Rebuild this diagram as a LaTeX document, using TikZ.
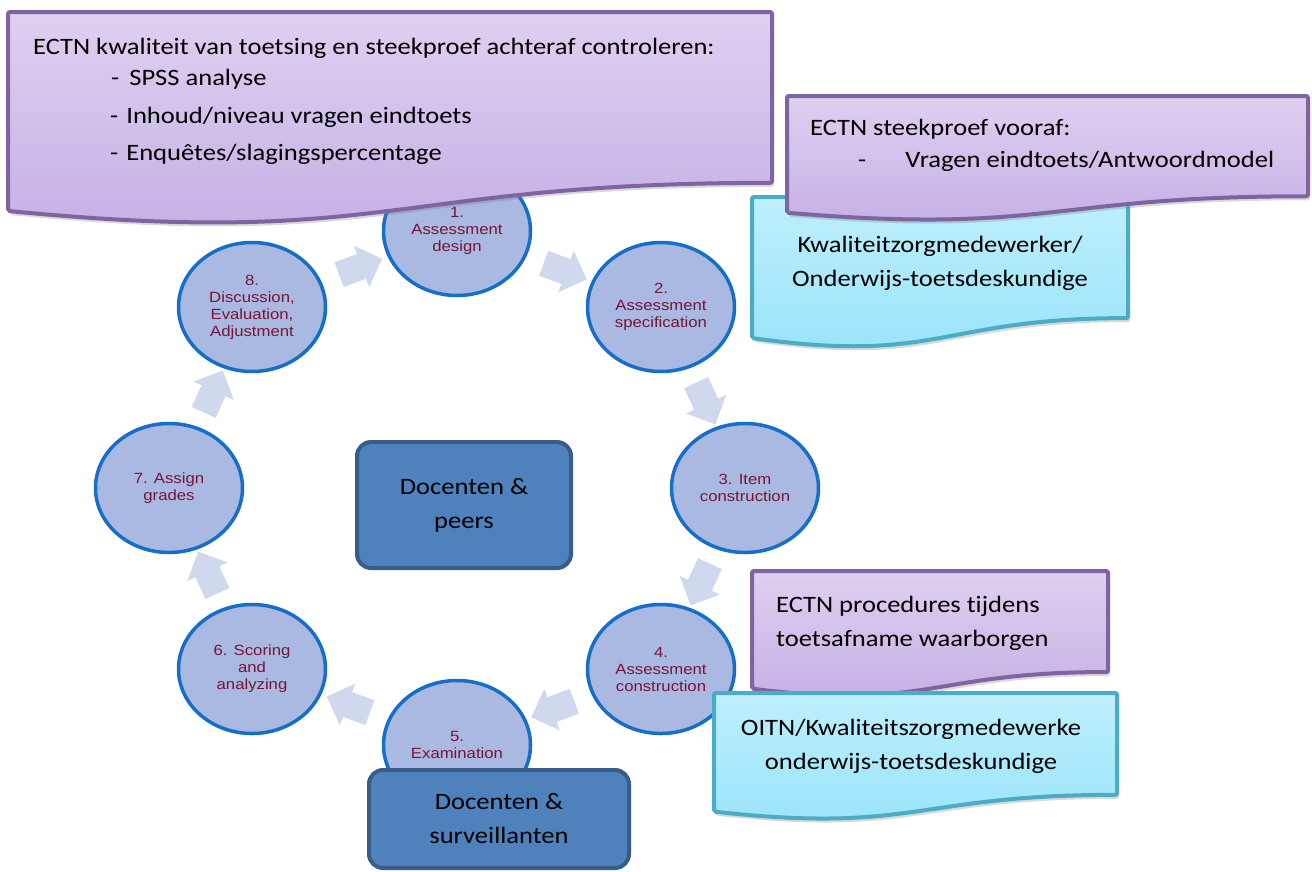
\documentclass[tikz,border=0pt]{standalone}
\usepackage{fontspec}
\usetikzlibrary{shapes.geometric,shapes.arrows,calc,shadows}
\newfontfamily\calf[FakeStretch=1.13,Ligatures=NoCommon]{Carlito}
\newfontfamily\arf[FakeStretch=1.13]{Liberation Sans}
\definecolor{purpB}{RGB}{128,100,162}
\definecolor{purpT}{RGB}{222,208,240}
\definecolor{purpD}{RGB}{195,174,228}
\definecolor{cyanB}{RGB}{75,172,198}
\definecolor{cyanT}{RGB}{190,239,252}
\definecolor{cyanD}{RGB}{152,227,250}
\definecolor{boxF}{RGB}{79,129,189}
\definecolor{boxB}{RGB}{56,93,138}
\definecolor{circF}{RGB}{170,185,225}
\definecolor{circB}{RGB}{22,110,200}
\definecolor{circT}{RGB}{120,20,55}
\definecolor{arrF}{RGB}{208,216,238}
\newcommand\mydocpath[4]{(#1,#2) -- (#3,#2) -- (#3,{#2+0.802*#4}) .. controls ({(#1+#3)/2},{#2+0.802*#4}) and ({(#1+#3)/2},{#2+1.108*#4}) .. (#1,{#2+0.934*#4}) -- cycle}
\begin{document}
\begin{tikzpicture}[x=1pt,y=-1pt,
  stage/.style={ellipse, draw=circB, line width=3.5pt, fill=circF, minimum width=147pt, minimum height=129pt, inner sep=0pt, align=center, text=circT, font=\arf\fontsize{14.8}{17}\selectfont},
  blk/.style={single arrow, fill=arrF, draw=none, minimum height=46pt, inner sep=13pt, single arrow head extend=9pt, single arrow tip angle=90},
  bluebox/.style={rectangle, rounded corners=14pt, draw=boxB, line width=4pt, fill=boxF, align=center, text=black, font=\calf\fontsize{23.5}{34}\selectfont},
  callP/.style={draw=purpB, line width=4pt, rounded corners=2pt, top color=purpT, bottom color=purpD, drop shadow={opacity=0.3, shadow xshift=2pt, shadow yshift=-4pt}},
  callC/.style={draw=cyanB, line width=4pt, rounded corners=2pt, top color=cyanT, bottom color=cyanD, drop shadow={opacity=0.3, shadow xshift=2pt, shadow yshift=-4pt}},
  ctext/.style={inner sep=0pt, text=black, font=\calf\fontsize{23.5}{34}\selectfont}]
\useasboundingbox (0,0) rectangle (1312,871);
% stages
\node[stage] (c1) at (457,231) {1.\\Assessment\\design};
\node[stage] (c2) at (661,307) {2.\\Assessment\\specification};
\node[stage] (c3) at (745,488) {3. Item\\construction};
\node[stage] (c4) at (661,669) {4.\\Assessment\\construction};
\node[stage] (c5) at (457,745) {5.\\Examination};
\node[stage] (c6) at (252,669) {6. Scoring\\and\\analyzing};
\node[stage] (c7) at (169,488) {7. Assign\\grades};
\node[stage] (c8) at (252,307) {8.\\Discussion,\\Evaluation,\\Adjustment};
% block arrows between stages
\foreach \a/\b in {c8/c1,c1/c2,c2/c3,c3/c4,c4/c5,c5/c6,c6/c7,c7/c8}
  \path let \p1=(\a.center), \p2=(\b.center), \n1={atan2(\y2-\y1,\x2-\x1)} in
    node[blk, rotate=\n1] (ar-\a) at ($(\a.center)!0.5!(\b.center)$) {};
% central boxes
\node[bluebox, minimum width=214pt, minimum height=126pt] (peers) at (464,505) {Docenten \&\\peers};
\node[bluebox, minimum width=260pt, minimum height=98pt] (surv) at (499,819) {Docenten \&\\surveillanten};
% big purple callout
\path[callP] \mydocpath{8}{12}{772}{213};
\node[ctext, anchor=base west] (t1a) at (33,54) {ECTN kwaliteit van toetsing en steekproef achteraf controleren:};
\node[ctext, anchor=base west] (t1b) at (111,85) {-\hspace{10pt}SPSS analyse};
\node[ctext, anchor=base west] (t1c) at (110,123) {-\hspace{8pt}Inhoud/niveau vragen eindtoets};
\node[ctext, anchor=base west] (t1d) at (110,160) {-\hspace{8pt}Enquêtes/slagingspercentage};
% cyan 1
\path[callC] \mydocpath{752}{197}{1128}{151};
\node[ctext, anchor=base] (t2a) at (940,252) {Kwaliteitzorgmedewerker/};
\node[ctext, anchor=base] (t2b) at (940,286) {Onderwijs-toetsdeskundige};
% small purple
\path[callP] \mydocpath{787}{96}{1308}{125};
\node[ctext, anchor=base west] (t3a) at (810,135) {ECTN steekproef vooraf:};
\node[ctext, anchor=base west] (t3b) at (858,167) {-\hspace{39pt}Vragen eindtoets/Antwoordmodel};
% purple middle
\path[callP] \mydocpath{752}{571}{1108}{126};
\node[ctext, anchor=base west] (t4a) at (776,612) {ECTN procedures tijdens};
\node[ctext, anchor=base west] (t4b) at (776,646) {toetsafname waarborgen};
% cyan 2
\path[callC] \mydocpath{714}{693}{1117}{127};
\node[ctext, anchor=base] (t5a) at (911,735) {OITN/Kwaliteitszorgmedewerke};
\node[ctext, anchor=base] (t5b) at (911,769) {onderwijs-toetsdeskundige};
\end{tikzpicture}
\end{document}
